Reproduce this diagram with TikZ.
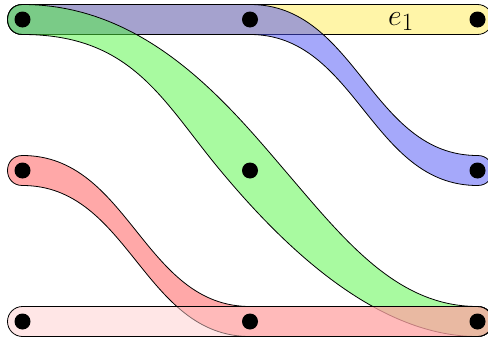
\documentclass[tikz,border=0pt]{standalone}
\usetikzlibrary{calc}
\definecolor{hYellow}{RGB}{255,235,81}
\definecolor{hBlue}{RGB}{75,81,245}
\definecolor{hGreen}{RGB}{81,245,65}
\definecolor{hRed}{RGB}{255,81,81}
\definecolor{hPink}{RGB}{255,205,205}
\tikzset{
	vtx/.style={circle, fill=black, inner sep=0pt, minimum size=16pt},
	hedge/.style={draw=black, line width=0.8pt, fill opacity=0.5},
	elabel/.style={font=\fontsize{24.88}{30}\selectfont, inner sep=0pt}
}

\begin{document}
\begin{tikzpicture}[x=1pt, y=-1pt]
	\useasboundingbox (0,0) rectangle (488,343);
	% vertices
	\coordinate (t1) at (22.5,19.5);
	\coordinate (t2) at (250,19.5);
	\coordinate (t3) at (477.5,19.5);
	\coordinate (m1) at (22.5,170.5);
	\coordinate (m2) at (250,170.5);
	\coordinate (m3) at (477.5,170.5);
	\coordinate (b1) at (22.5,321.5);
	\coordinate (b2) at (250,321.5);
	\coordinate (b3) at (477.5,321.5);

	% hyperedges
	\draw[hedge, fill=hYellow, rounded corners=15pt]
		($(t1)+(-15,-15)$) rectangle ($(t3)+(15,15)$);
	\node[elabel, anchor=base] (e1) at (401,25) {\scalebox{1.2}{$e_1$}};

	\draw[hedge, fill=hBlue]
		($(t1)+(0,-15)$) -- ($(t2)+(0,-15)$) to[out=0,in=180] ($(m3)+(0,-15)$)
		.. controls +(20,0) and +(20,0) .. ($(m3)+(0,15)$)
		to[out=180,in=0] ($(t2)+(0,15)$) -- ($(t1)+(0,15)$)
		.. controls +(-20,0) and ($(t1)+(-20,-15)$) .. cycle;

	\draw[hedge, fill=hGreen]
		($(t1)+(0,-15)$) .. controls ($(t1)+(125,-15)$) and ($(m2)+(-21.5,-65.9)$) .. ($(m2)+(37,2.5)$)
		.. controls ($(m2)+(95.5,70.9)$) and ($(b3)+(-80,-15)$) .. ($(b3)+(0,-15)$)
		.. controls +(20,0) and +(20,0) .. ($(b3)+(0,15)$)
		.. controls ($(b3)+(-105,15)$) and ($(m2)+(27.6,68.8)$) .. ($(m2)+(-30,-0.5)$)
		.. controls ($(m2)+(-87.6,-69.8)$) and ($(t1)+(110,15)$) .. ($(t1)+(0,15)$)
		.. controls +(-20,0) and ($(t1)+(-20,-15)$) .. cycle;

	\draw[hedge, fill=hRed]
		($(m1)+(0,-15)$) to[out=0,in=180] ($(b2)+(0,-15)$) -- ($(b3)+(0,-15)$)
		.. controls +(20,0) and +(20,0) .. ($(b3)+(0,15)$)
		-- ($(b2)+(0,15)$) to[out=180,in=0] ($(m1)+(0,15)$)
		.. controls +(-20,0) and ($(m1)+(-20,-15)$) .. cycle;

	\draw[hedge, fill=hPink, rounded corners=15pt]
		($(b1)+(-15,-15)$) rectangle ($(b3)+(15,15)$);

	% vertex dots
	\foreach \v in {t1,t2,t3,m1,m2,m3,b1,b2,b3}
		\node[vtx] (d\v) at (\v) {};
\end{tikzpicture}
\end{document}
